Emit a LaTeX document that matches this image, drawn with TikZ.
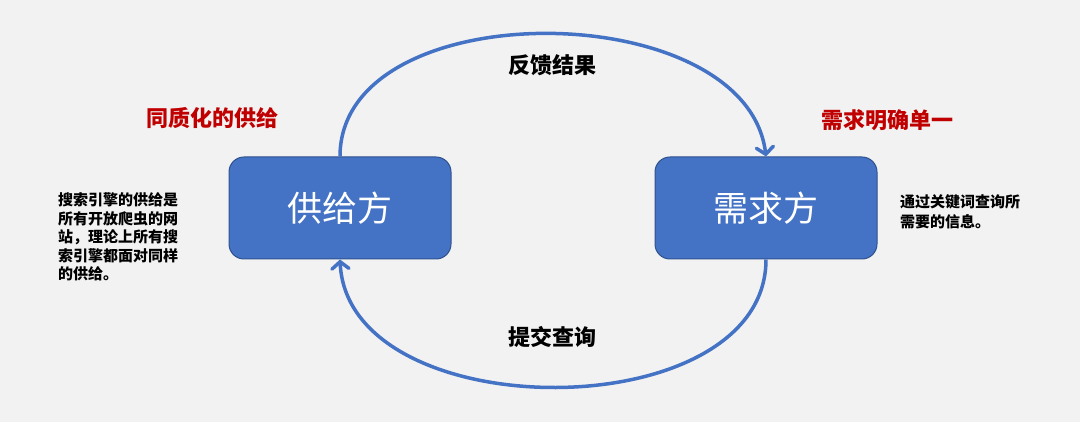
\documentclass[tikz,border=0pt]{standalone}
\usepackage{fontspec}
\setmainfont{Noto Sans CJK SC}
\usetikzlibrary{arrows.meta}
\definecolor{boxblue}{HTML}{4472C4}
\definecolor{boxedge}{HTML}{2F528F}
\definecolor{titlered}{HTML}{C00000}
\definecolor{bggray}{HTML}{F2F2F2}

\begin{document}
\begin{tikzpicture}[x=1pt, y=-1pt,
    party/.style={draw=boxedge, fill=boxblue, line width=1pt, rounded corners=15pt, minimum width=222pt, minimum height=102pt, text=white, font=\fontsize{35}{40}\selectfont},
    flowarc/.style={draw=boxblue, line width=3.5pt, -{Straight Barb[length=7pt, width=17pt, line cap=round]}},
    headline/.style={font=\fontsize{22}{26}\selectfont\bfseries, text=titlered},
    arclbl/.style={font=\fontsize{22}{26}\selectfont\bfseries},
    note/.style={font=\fontsize{15}{#1}\selectfont\bfseries, align=left, anchor=west, inner sep=0pt}
]
\fill[bggray] (0,0) rectangle (1080,422);
\useasboundingbox (0,0) rectangle (1080,422);

\node[party] (supply) at (340,208) {供给方};
\node[party] (demand) at (766,208) {需求方};

\node[headline] (supplyhead) at (212,118) {同质化的供给};
\node[headline] (demandhead) at (887,120) {需求明确单一};

\node[note=18.6] (supplynote) at (58,237) {搜索引擎的供给是\\所有开放爬虫的网\\站，理论上所有搜\\索引擎都面对同样\\的供给。};
\node[note=20] (demandnote) at (900,212) {通过关键词查询所\\需要的信息。};

\draw[flowarc] (supply.north) .. controls +(0,-165) and +(-20,-162) .. (demand.north);
\draw[flowarc] (demand.south) .. controls +(0,170) and +(8,170) .. (supply.south);

\node[arclbl] (feedback) at (552,65) {反馈结果};
\node[arclbl] (query) at (552,337) {提交查询};
\end{tikzpicture}
\end{document}
